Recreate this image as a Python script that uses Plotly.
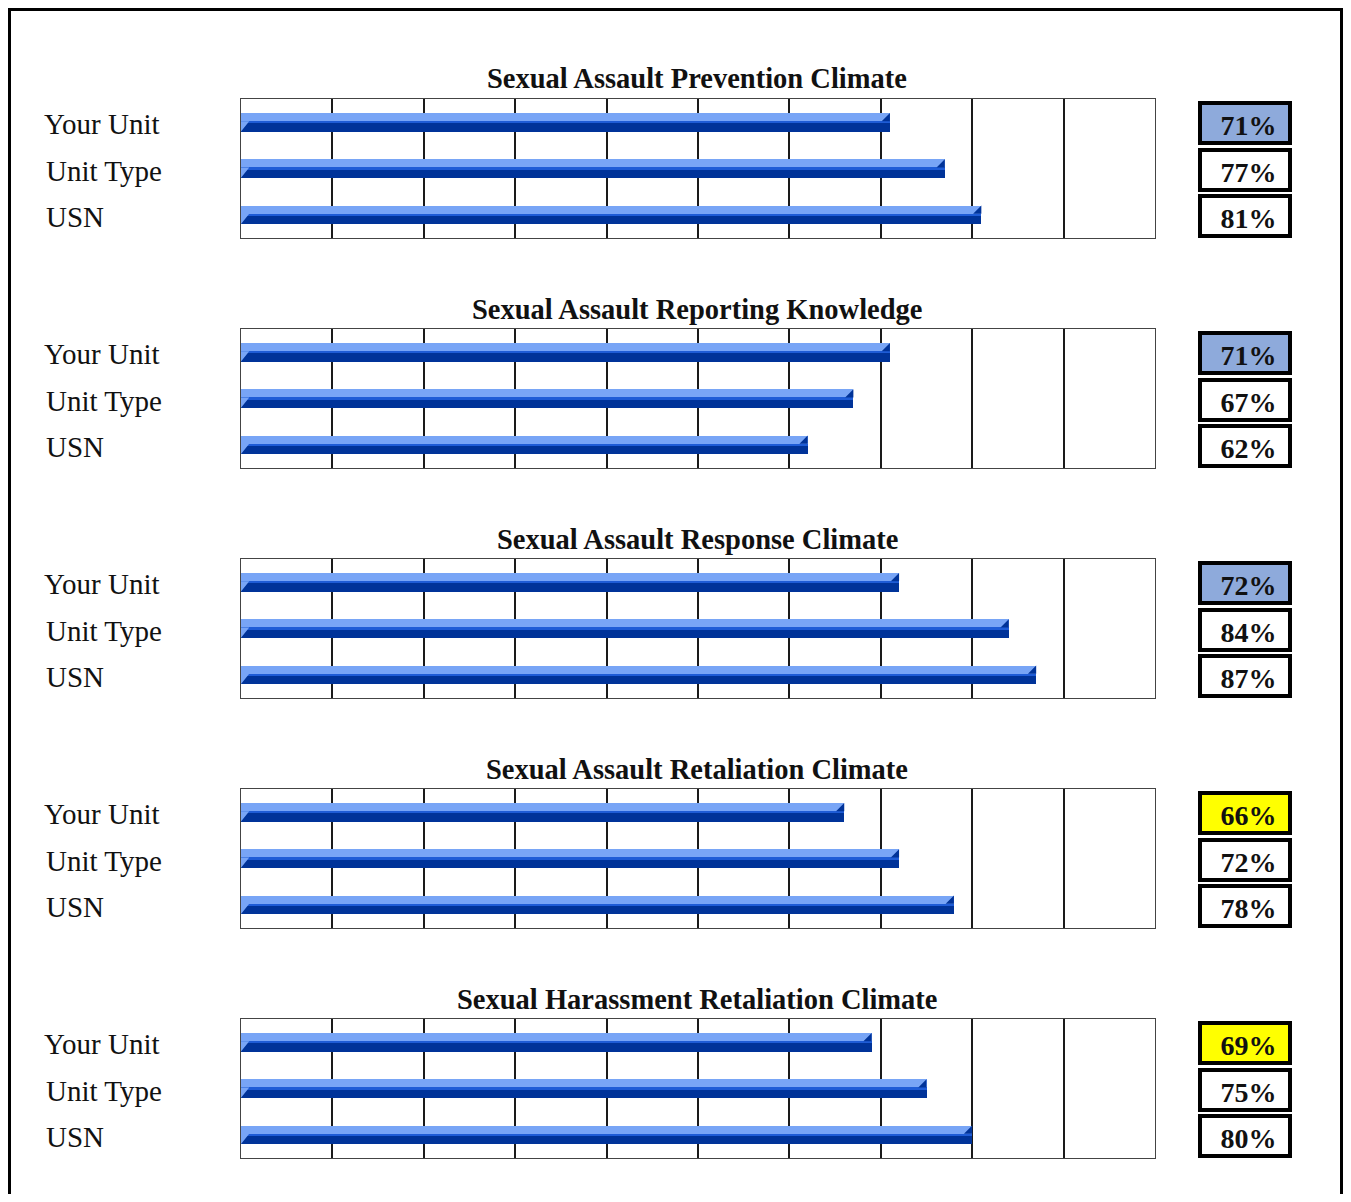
import plotly.graph_objects as go

OFF = 8  # browser body margin
W, H = 1351 - 2 * OFF, 1202 - 2 * OFF

titles = [
    "Sexual Assault Prevention Climate",
    "Sexual Assault Reporting Knowledge",
    "Sexual Assault Response Climate",
    "Sexual Assault Retaliation Climate",
    "Sexual Harassment Retaliation Climate",
]
groups = ["Your Unit", "Unit Type", "USN"]
your_unit = [71, 71, 72, 66, 69]
unit_type = [77, 67, 84, 72, 75]
usn = [81, 62, 87, 78, 80]
your_unit_flag = ["blue", "blue", "blue", "yellow", "yellow"]

flag_colors = {"blue": "#8EAADB", "yellow": "#FFFF00"}

LIGHT = "#78A5F6"
MID = "#1E5CD6"
DARK = "#003399"

PLOT_L, PLOT_R = 241, 1155
PANEL_TOP0, PANEL_STEP, PANEL_H = 99, 230, 139


def px(x):
    return (x - OFF) / W


def py(y):
    return 1 - (y - OFF) / H


fig = go.Figure()
annotations = []
shapes = []

for i, title in enumerate(titles):
    vals = [your_unit[i], unit_type[i], usn[i]]
    cats = [0, 1, 2]
    n = "" if i == 0 else str(i + 1)
    xa, ya = "x" + n, "y" + n
    top = PANEL_TOP0 + PANEL_STEP * i
    bot = top + PANEL_H

    for color, off, wid in [(LIGHT, -0.2, 0.178), (MID, -0.025, 0.05), (DARK, 0.022, 0.18)]:
        fig.add_trace(go.Bar(
            x=vals, y=cats, orientation="h", marker=dict(color=color, line=dict(width=0)),
            offset=off, width=wid, xaxis=xa, yaxis=ya, showlegend=False, hoverinfo="skip",
        ))

    # bevelled ends of the bars
    ex, ey, sx, sy = [], [], [], []
    for c, v in zip(cats, vals):
        ex += [v - 0.9, v, v, v - 0.9, None]
        ey += [c - 0.022, c - 0.2, c - 0.022, c - 0.022, None]
        sx += [0, 0, 0.9, 0, None]
        sy += [c - 0.022, c + 0.2, c - 0.022, c - 0.022, None]
    fig.add_trace(go.Scatter(x=ex, y=ey, mode="lines", fill="toself", fillcolor=DARK,
                             line=dict(width=0, color=DARK), xaxis=xa, yaxis=ya,
                             showlegend=False, hoverinfo="skip"))
    fig.add_trace(go.Scatter(x=sx, y=sy, mode="lines", fill="toself", fillcolor=LIGHT,
                             line=dict(width=0, color=LIGHT), xaxis=xa, yaxis=ya,
                             showlegend=False, hoverinfo="skip"))

    fig.layout["xaxis" + n] = dict(
        domain=[px(PLOT_L), px(PLOT_R)], range=[0, 100], dtick=10, tick0=0,
        showgrid=True, gridcolor="#1a1a1a", gridwidth=1.5, showticklabels=False,
        ticks="", zeroline=False, showline=True, linecolor="#444444", linewidth=1.2,
        mirror=True, anchor=ya, fixedrange=True,
    )
    fig.layout["yaxis" + n] = dict(
        domain=[py(bot), py(top)], range=[2.5, -0.5], showgrid=False,
        showticklabels=False, ticks="", zeroline=False, showline=True,
        linecolor="#444444", linewidth=1.2, mirror=True, anchor=xa, fixedrange=True,
    )

    annotations.append(dict(
        text="<b>" + title + "</b>", xref="paper", yref="paper",
        x=px((PLOT_L + PLOT_R) / 2 - 1), y=py(top - 20), xanchor="center", yanchor="middle",
        showarrow=False, font=dict(family="Liberation Serif", size=28.5, color="#111111"),
    ))

    for j, g in enumerate(groups):
        annotations.append(dict(
            text=g, xref="paper", yref=ya, x=px(42 if j == 0 else 44), y=j,
            xanchor="left", yanchor="middle", yshift=-2, showarrow=False,
            font=dict(family="Liberation Serif", size=29, color="#111111"),
        ))
        bg = flag_colors[your_unit_flag[i]] if j == 0 else "#FFFFFF"
        annotations.append(dict(
            text="<b>\u00a0%d%%</b>" % vals[j], xref="paper", yref=ya, x=px(1245), y=j,
            xanchor="center", yanchor="middle", showarrow=False, yshift=-1,
            width=86, height=36, bgcolor=bg, bordercolor="#000000", borderwidth=4,
            borderpad=0, align="center", valign="bottom",
            font=dict(family="Liberation Serif", size=28, color="#111111"),
        ))

shapes.append(dict(
    type="rect", xref="paper", yref="paper", x0=px(9.5), x1=px(1341.5),
    y0=py(1225), y1=py(9.5), line=dict(color="#000000", width=3),
))

fig.update_layout(
    width=W, height=H, margin=dict(l=0, r=0, t=0, b=0),
    paper_bgcolor="#FFFFFF", plot_bgcolor="#FFFFFF", barmode="overlay", bargap=0,
    annotations=annotations, shapes=shapes,
)

fig.write_html("out.html")
